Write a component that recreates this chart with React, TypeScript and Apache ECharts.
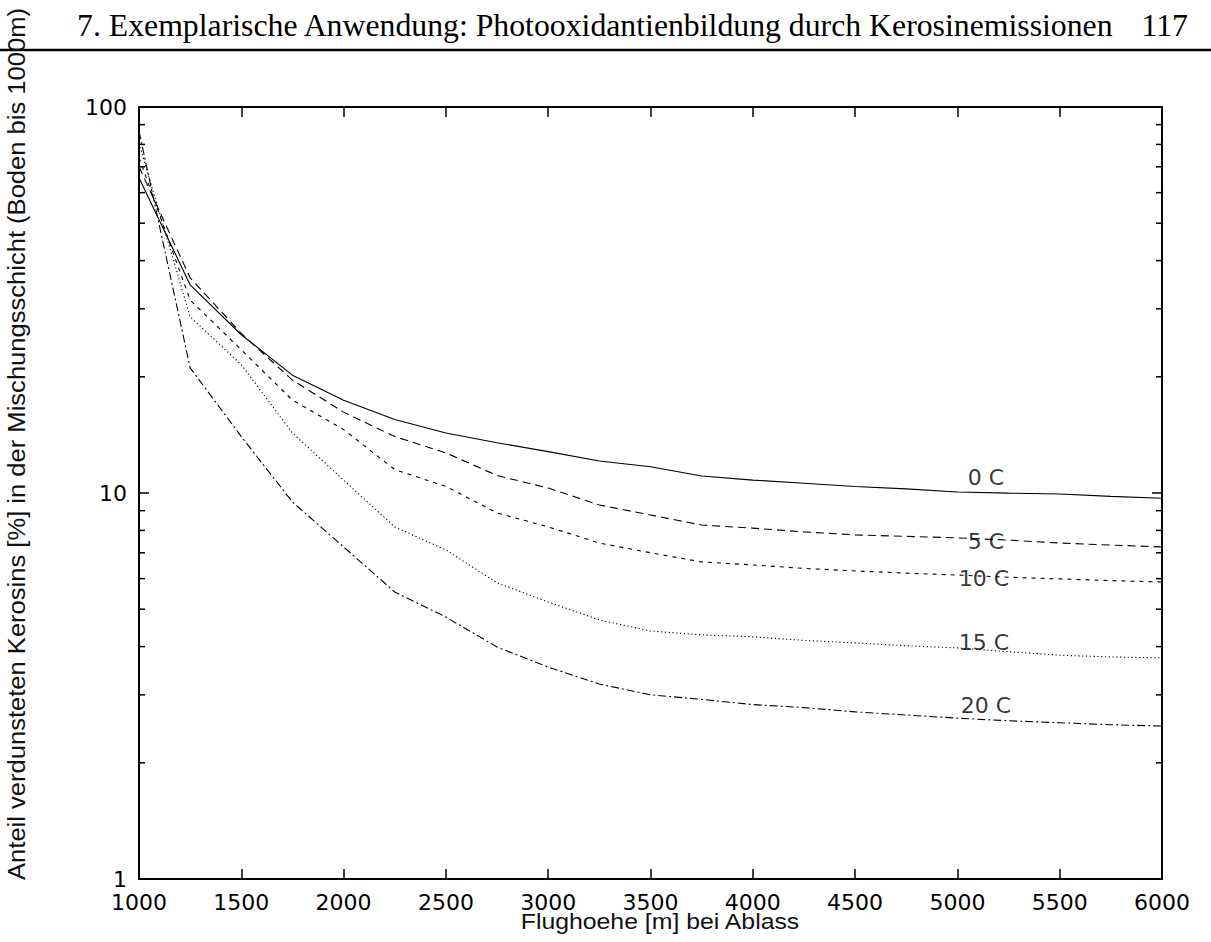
import React, { useEffect, useRef } from "react";
import * as echarts from "echarts";

// Flight altitude at release [m]
const HEIGHTS = [1000, 1250, 1500, 1750, 2000, 2250, 2500, 2750, 3000, 3250, 3500, 3750, 4000, 4250, 4500, 4750, 5000, 5250, 5500, 5750, 6000];

// Share of evaporated kerosene in the mixing layer [%], per temperature
const EVAP_0C = [65.6, 34.6, 25.7, 20.2, 17.4, 15.5, 14.3, 13.5, 12.8, 12.1, 11.7, 11.07, 10.8, 10.6, 10.4, 10.25, 10.06, 9.99, 9.94, 9.8, 9.69];
const EVAP_5C = [70.0, 36.1, 25.9, 19.6, 16.2, 14.0, 12.7, 11.1, 10.3, 9.31, 8.77, 8.26, 8.11, 7.93, 7.79, 7.72, 7.65, 7.55, 7.42, 7.33, 7.25];
const EVAP_10C = [74.0, 31.6, 23.5, 17.4, 14.6, 11.5, 10.4, 8.88, 8.17, 7.42, 7.0, 6.63, 6.51, 6.38, 6.28, 6.2, 6.13, 6.05, 5.99, 5.93, 5.88];
const EVAP_15C = [80.5, 28.6, 21.5, 14.3, 10.8, 8.17, 7.12, 5.85, 5.22, 4.69, 4.39, 4.29, 4.24, 4.15, 4.09, 4.02, 3.97, 3.88, 3.8, 3.76, 3.74];
const EVAP_20C = [86.5, 21.1, 14.0, 9.48, 7.25, 5.54, 4.77, 3.99, 3.54, 3.2, 3.0, 2.92, 2.83, 2.78, 2.71, 2.66, 2.61, 2.57, 2.54, 2.51, 2.49];

const SERIES_NAMES = ["0 C", "5 C", "10 C", "15 C", "20 C"];
const SERIES_VALUES = [EVAP_0C, EVAP_5C, EVAP_10C, EVAP_15C, EVAP_20C];

// Curve annotations in data coordinates
const LABEL_X = [5140, 5140, 5130, 5130, 5140];
const LABEL_Y = [11.0, 7.51, 6.02, 4.11, 2.81];

// Minor log ticks
const MINOR_TICKS = [2, 3, 4, 5, 6, 7, 8, 9, 20, 30, 40, 50, 60, 70, 80, 90];

const HEADER = "7. Exemplarische Anwendung: Photooxidantienbildung durch Kerosinemissionen";
const PAGE_NO = "117";
const X_TITLE = "Flughoehe [m] bei Ablass";
const Y_TITLE = "Anteil verdunsteten Kerosins [%] in der Mischungsschicht (Boden bis 1000m)";

const DASHES: (number[] | "solid")[] = ["solid", [8, 5], [4, 5], [1.2, 2.6], [8, 3, 2, 3]];

function fitScale(text: string, font: string, target: number): number {
  const ctx = document.createElement("canvas").getContext("2d");
  if (!ctx) return 1;
  ctx.font = font;
  const w = ctx.measureText(text).width;
  return w > 0 ? target / w : 1;
}

export default function App() {
  const ref = useRef<HTMLDivElement>(null);

  useEffect(() => {
    if (!ref.current) return;
    const chart = echarts.init(ref.current, undefined, { renderer: "svg" });

    const headerFont = '31px "Liberation Serif"';
    const headerScale = fitScale(HEADER, headerFont, 1038);
    const xTitleFont = '22px "Liberation Sans"';
    const xTitleScale = fitScale(X_TITLE, xTitleFont, 280);
    const yTitleFont = '24px "Liberation Sans"';
    const yTitleScale = fitScale(Y_TITLE, yTitleFont, 872);

    const tickFont = { fontFamily: "DejaVu Sans", fontSize: 22, color: "#000", lineHeight: 16 };

    const lineSeries = SERIES_NAMES.map((name, i) => ({
      name,
      type: "line",
      data: HEIGHTS.map((h, j) => [h, SERIES_VALUES[i][j]]),
      showSymbol: false,
      symbol: "none",
      lineStyle: { color: "#000", width: 1.1, type: DASHES[i] },
      z: 3,
    }));

    const option: any = {
      animation: false,
      backgroundColor: "#fff",
      grid: { left: 139, top: 107, width: 1023, height: 772, containLabel: false },
      xAxis: [
        {
          type: "value",
          min: 1000,
          max: 6000,
          interval: 500,
          position: "bottom",
          axisLine: { lineStyle: { color: "#000", width: 2 } },
          axisTick: { inside: true, length: 10, lineStyle: { color: "#000", width: 1.5 } },
          axisLabel: { ...tickFont, margin: 15, formatter: (v: number) => String(v) },
          splitLine: { show: false },
        },
        {
          type: "value",
          min: 1000,
          max: 6000,
          interval: 500,
          position: "top",
          axisLine: { lineStyle: { color: "#000", width: 2 } },
          axisTick: { inside: true, length: 10, lineStyle: { color: "#000", width: 1.5 } },
          axisLabel: { show: false },
          splitLine: { show: false },
        },
      ],
      yAxis: [
        {
          type: "log",
          logBase: 10,
          min: 1,
          max: 100,
          position: "left",
          axisLine: { show: true, lineStyle: { color: "#000", width: 2 } },
          axisTick: { show: true, inside: true, length: 10, lineStyle: { color: "#000", width: 1.5 } },
          axisLabel: { ...tickFont, margin: 12, formatter: (v: number) => String(v) },
          splitLine: { show: false },
        },
        {
          type: "log",
          logBase: 10,
          min: 1,
          max: 100,
          position: "right",
          axisLine: { show: true, lineStyle: { color: "#000", width: 2 } },
          axisTick: { show: true, inside: true, length: 10, lineStyle: { color: "#000", width: 1.5 } },
          axisLabel: { show: false },
          splitLine: { show: false },
        },
      ],
      series: [
        ...lineSeries,
        {
          type: "custom",
          name: "minor",
          xAxisIndex: 0,
          yAxisIndex: 0,
          data: MINOR_TICKS.map((v) => [1000, v]),
          silent: true,
          z: 4,
          renderItem: (params: any, api: any) => {
            const y = api.coord([1000, api.value(1)])[1];
            const cs = params.coordSys;
            const style = { stroke: "#000", lineWidth: 1.5 };
            return {
              type: "group",
              children: [
                { type: "line", shape: { x1: cs.x, y1: y, x2: cs.x + 6, y2: y }, style },
                { type: "line", shape: { x1: cs.x + cs.width - 6, y1: y, x2: cs.x + cs.width, y2: y }, style },
              ],
            };
          },
        },
        {
          type: "scatter",
          name: "labels",
          symbolSize: 1,
          itemStyle: { color: "transparent" },
          silent: true,
          data: SERIES_NAMES.map((n, i) => [LABEL_X[i], LABEL_Y[i], n]),
          label: {
            show: true,
            position: "inside",
            formatter: (p: any) => p.data[2],
            ...tickFont,
            textBorderWidth: 0,
          },
          z: 5,
        },
      ],
      graphic: [
        {
          type: "text",
          x: 77,
          y: 26,
          scaleX: headerScale,
          style: { text: HEADER, font: headerFont, fill: "#000", textAlign: "left", textVerticalAlign: "middle" },
        },
        {
          type: "text",
          x: 1188,
          y: 26,
          scaleX: headerScale,
          style: { text: PAGE_NO, font: headerFont, fill: "#000", textAlign: "right", textVerticalAlign: "middle" },
        },
        {
          type: "line",
          shape: { x1: 0, y1: 50, x2: 1211, y2: 50 },
          style: { stroke: "#000", lineWidth: 2.5 },
        },
        {
          type: "text",
          x: 660,
          y: 921,
          scaleX: xTitleScale,
          style: { text: X_TITLE, font: xTitleFont, fill: "#111", textAlign: "center", textVerticalAlign: "middle" },
        },
        {
          type: "text",
          x: 17,
          y: 444,
          rotation: Math.PI / 2,
          scaleX: yTitleScale,
          style: { text: Y_TITLE, font: yTitleFont, fill: "#111", textAlign: "center", textVerticalAlign: "middle" },
        },
      ],
    };

    chart.setOption(option);
    return () => chart.dispose();
  }, []);

  return (
    <div
      ref={ref}
      style={{ position: "fixed", left: 0, top: 0, width: 1211, height: 942, background: "#fff" }}
    />
  );
}
